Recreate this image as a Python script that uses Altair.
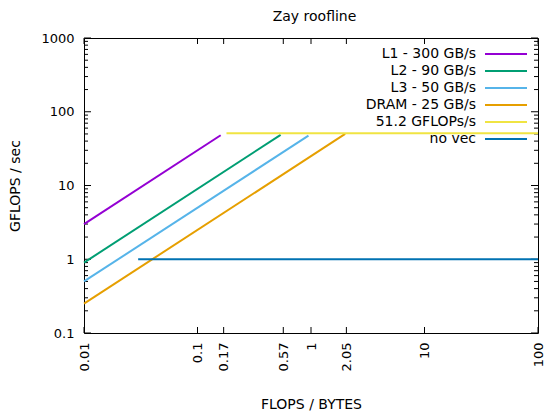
import altair as alt
import pandas as pd

# ---- data ----
chart_title = ["Zay roofline"]
series = ["L1 - 300 GB/s", "L2 - 90 GB/s", "L3 - 50 GB/s", "DRAM - 25 GB/s", "51.2 GFLOPs/s", "no vec"]
x_start = [0.01, 0.01, 0.01, 0.01, 0.18, 0.03]
x_end = [0.16, 0.54, 0.95, 2.0, 100, 100]
y_start = [3.0, 0.9, 0.5, 0.25, 51.2, 1.0]
y_end = [48.0, 48.6, 47.5, 50.0, 51.2, 1.0]
colors = ["#9400d3", "#009e73", "#56b4e9", "#e69f00", "#f0e442", "#0072b2"]

x_tick_values = [0.01, 0.1, 0.17, 0.57, 1, 2.05, 10, 100]
y_major_values = [0.1, 1, 10, 100, 1000]
y_minor_values = [0.2, 0.3, 0.4, 0.5, 0.6, 0.7, 0.8, 0.9,
                  2, 3, 4, 5, 6, 7, 8, 9,
                  20, 30, 40, 50, 60, 70, 80, 90,
                  200, 300, 400, 500, 600, 700, 800, 900]

rows = []
for i, s in enumerate(series):
    rows.append({"series": s, "x": x_start[i], "y": y_start[i], "o": 0})
    rows.append({"series": s, "x": x_end[i], "y": y_end[i], "o": 1})
lines_df = pd.DataFrame(rows)

W, H = 454, 295
FONT = "DejaVu Sans"

xs = alt.Scale(type="log", domain=[0.01, 100], nice=False)
ys = alt.Scale(type="log", domain=[0.1, 1000], nice=False)

xaxis = alt.Axis(values=x_tick_values, format="~g", labelAngle=270, labelAlign="right",
                 labelBaseline="middle", labelPadding=9, labelFontSize=13, labelFont=FONT,
                 labelColor="black", labelOverlap=False, labelFlush=False, ticks=False,
                 domain=False, grid=False, titleFont=FONT, titleFontSize=14,
                 titleFontWeight="normal", titleColor="black", titlePadding=27)
yaxis = alt.Axis(values=y_major_values, format="~g", labelPadding=10, labelFontSize=13,
                 labelFont=FONT, labelColor="black", labelOverlap=False, labelFlush=False,
                 ticks=False, domain=False, grid=False, titleFont=FONT, titleFontSize=14,
                 titleFontWeight="normal", titleColor="black", titlePadding=18)

XT = "FLOPS / BYTES"
YT = "GFLOPS / sec"

legend = alt.Legend(title=None, orient="none", legendX=400, legendY=8, padding=0,
                    symbolType="M-1,0H5", symbolSize=196, symbolStrokeWidth=2,
                    labelAlign="right", labelOffset={"expr": "-24"},
                    labelFontSize=14, labelFont=FONT, labelColor="black",
                    rowPadding=2, labelLimit=0)

lines = alt.Chart(lines_df).mark_line(strokeWidth=2).encode(
    x=alt.X("x:Q", scale=xs, axis=xaxis, title=XT),
    y=alt.Y("y:Q", scale=ys, axis=yaxis, title=YT),
    color=alt.Color("series:N", scale=alt.Scale(domain=series, range=colors), legend=legend),
    detail="series:N",
    order="o:Q",
)

xt_df = pd.DataFrame({"v": x_tick_values})
ymaj_df = pd.DataFrame({"v": y_major_values})
ymin_df = pd.DataFrame({"v": y_minor_values})

def xrule(y0, y1):
    return alt.Chart(xt_df).mark_rule(color="black", strokeWidth=1).encode(
        x=alt.X("v:Q", scale=xs, axis=xaxis, title=XT),
        y=alt.value(y0), y2=alt.value(y1))

def yrule(df, x0, x1):
    return alt.Chart(df).mark_rule(color="black", strokeWidth=1).encode(
        y=alt.Y("v:Q", scale=ys, axis=yaxis, title=YT),
        x=alt.value(x0), x2=alt.value(x1))

ticks = [
    xrule(H, H - 6), xrule(0, 6),
    yrule(ymaj_df, 0, 7), yrule(ymaj_df, W, W - 7),
    yrule(ymin_df, 0, 4), yrule(ymin_df, W, W - 4),
]

title_layer = alt.Chart(pd.DataFrame({"t": chart_title})).mark_text(
    font=FONT, fontSize=14, color="black", align="center", baseline="alphabetic"
).encode(text="t:N", x=alt.value(230.5), y=alt.value(-17.5))

chart = alt.layer(*ticks, lines, title_layer).properties(
    width=W, height=H,
    autosize=alt.AutoSizeParams(type="none"),
    padding={"left": 76, "top": 30, "right": 6, "bottom": 79},
    background="white",
).configure_view(stroke="black", strokeWidth=1)

chart.save("out.html", embed_options={"renderer": "svg", "actions": False})
